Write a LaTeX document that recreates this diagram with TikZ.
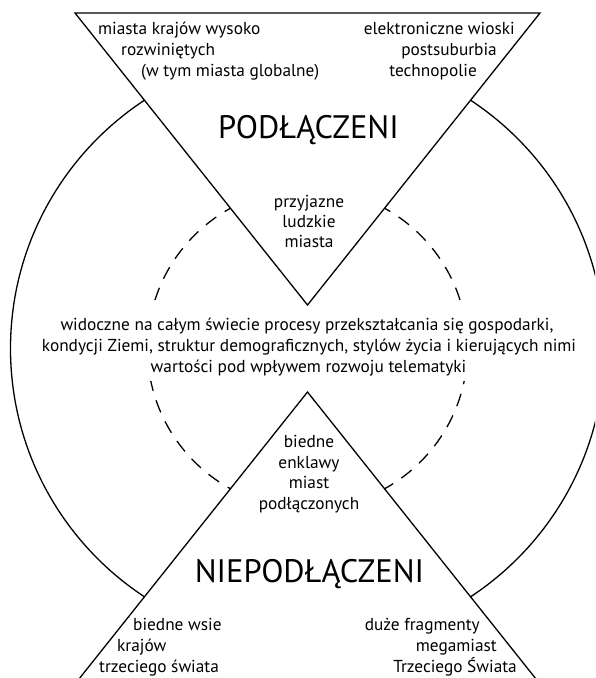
\documentclass[tikz,border=0pt]{standalone}
\usepackage{fontspec}
\setmainfont{PT Sans}
\begin{document}
\begin{tikzpicture}[x=1pt,y=-1pt,
  line/.style={line width=1.3pt,line join=miter},
  dashline/.style={line width=1.3pt,dash pattern=on 13pt off 10pt},
  txt/.style={font=\fontsize{17.3}{21}\selectfont,inner sep=0pt},
  big/.style={font=\fontsize{32.5}{38}\selectfont,inner sep=0pt}]
\clip (0,0) rectangle (595,678);
\fill[white] (0,0) rectangle (595,678);
% coordinates
\coordinate (TL) at (75,13);
\coordinate (TR) at (540,13);
\coordinate (TA) at (307.5,305);
\coordinate (BA) at (307.5,392);
\coordinate (BL) at (75,684);
\coordinate (BR) at (540,684);
\coordinate (C) at (307.5,348.5);
% triangles
\draw[line] (TL) -- (TR) -- (TA) -- cycle;
\draw[line] (BA) -- (BL) -- (BR) -- cycle;
% outer circle outside the triangles
\begin{scope}
  \clip (-20,-20) -- (75,-20) -- (TL) -- (TA) -- (BA) -- (BL) -- (75,700) -- (-20,700) -- cycle
        (615,-20) -- (540,-20) -- (TR) -- (TA) -- (BA) -- (BR) -- (540,700) -- (615,700) -- cycle;
  \draw[line] (C) circle[radius=297];
\end{scope}
% dashed circle outside the triangles and the middle text
\begin{scope}
  \clip (-20,-20) -- (75,-20) -- (TL) -- (TA) -- (307.5,303) -- (-20,303) -- cycle
        (615,-20) -- (540,-20) -- (TR) -- (TA) -- (307.5,303) -- (615,303) -- cycle
        (-20,381) -- (307.5,381) -- (BA) -- (BL) -- (75,700) -- (-20,700) -- cycle
        (615,381) -- (307.5,381) -- (BA) -- (BR) -- (540,700) -- (615,700) -- cycle;
  \draw[dashline] (C) circle[radius=160];
\end{scope}
% texts top
\node[txt,anchor=base west] (t1) at (98,34) {miasta krajów wysoko};
\node[txt,anchor=base west] (t2) at (121,55) {rozwiniętych};
\node[txt,anchor=base west] (t3) at (141,76) {(w tym miasta globalne)};
\node[txt,anchor=base east] (r1) at (515,34) {elektroniczne wioski};
\node[txt,anchor=base east] (r2) at (497,55) {postsuburbia};
\node[txt,anchor=base east] (r3) at (477,76) {technopolie};
\node[big,anchor=base] (pod) at (308.5,138) {PODŁĄCZENI};
\node[txt,anchor=base] (p1) at (309,207) {przyjazne};
\node[txt,anchor=base] (p2) at (309,227) {ludzkie};
\node[txt,anchor=base] (p3) at (309,247) {miasta};
% middle
\node[txt,anchor=base] (m1) at (307,330) {widoczne na całym świecie procesy przekształcania się gospodarki,};
\node[txt,anchor=base] (m2) at (309,351) {kondycji Ziemi, struktur demograficznych, stylów życia i kierujących nimi};
\node[txt,anchor=base] (m3) at (308.5,372) {wartości pod wpływem rozwoju telematyki};
% bottom
\node[txt,anchor=base] (b1) at (309,447) {biedne};
\node[txt,anchor=base] (b2) at (309,468) {enklawy};
\node[txt,anchor=base] (b3) at (309,488) {miast};
\node[txt,anchor=base] (b4) at (309,509) {podłączonych};
\node[big,anchor=base] (niepod) at (309.5,582) {NIEPODŁĄCZENI};
\node[txt,anchor=base west] (l1) at (133,630) {biedne wsie};
\node[txt,anchor=base west] (l2) at (117,651) {krajów};
\node[txt,anchor=base west] (l3) at (99,672) {trzeciego świata};
\node[txt,anchor=base east] (d1) at (480,630) {duże fragmenty};
\node[txt,anchor=base east] (d2) at (497,651) {megamiast};
\node[txt,anchor=base east] (d3) at (517,672) {Trzeciego Świata};
\end{tikzpicture}
\end{document}
